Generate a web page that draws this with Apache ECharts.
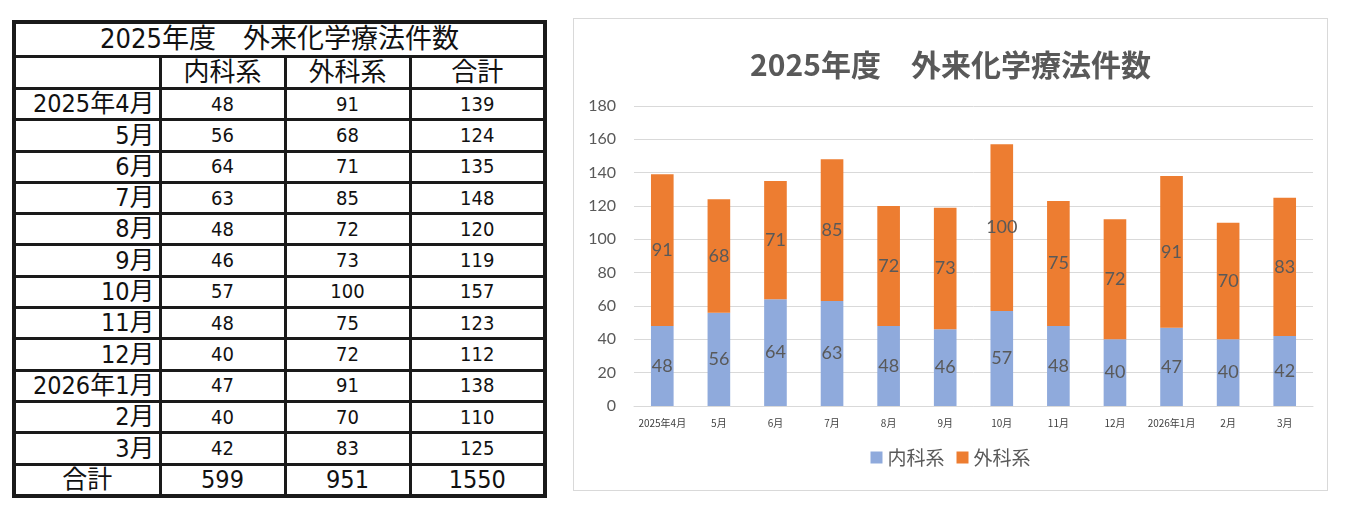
<!DOCTYPE html>
<html lang="ja">
<head>
<meta charset="UTF-8">
<title>2025年度 外来化学療法件数</title>
<script src="https://cdn.jsdelivr.net/npm/echarts@6/dist/echarts.min.js"></script>
<style>
  body { margin: 0; background: #fff; width: 1345px; height: 511px; position: relative; overflow: hidden; }
  #tbl {
    position: absolute; left: 12px; top: 20px; width: 531px; height: 478px;
    border-collapse: collapse; border: 4px solid #1a1a1a; box-sizing: border-box;
    font-family: "DejaVu Sans Condensed", "Noto Sans CJK JP", sans-serif; color: #111;
    table-layout: fixed;
  }
  #tbl td { border: 3px solid #1a1a1a; padding: 0; height: 1px; line-height: 0.95; text-align: center; font-size: 20px; overflow: hidden; }
  #tbl td.title { font-size: 27px; }
  #tbl td.head { font-size: 26px; }
  #tbl td.month { text-align: right; padding-right: 4px; font-size: 25px; }
  #tbl tr.total td { font-size: 25px; }
  #chart {
    position: absolute; left: 573px; top: 18px; width: 755px; height: 473px;
    border: 1px solid #d9d9d9; box-sizing: border-box;
  }
</style>
</head>
<body>
<table id="tbl"></table>
<div id="chart"></div>
<script>
// 元データ
const titleText = '2025年度　外来化学療法件数';
const tableMonths = ['2025年4月', '5月', '6月', '7月', '8月', '9月', '10月', '11月', '12月', '2026年1月', '2月', '3月'];
const chartMonths = ['2025年4月', '5月', '6月', '7月', '8月', '9月', '10月', '11月', '12月', '2026年1月', '2月', '3月'];
const seriesNames = ['内科系', '外科系', '合計'];
const naika = [48, 56, 64, 63, 48, 46, 57, 48, 40, 47, 40, 42];
const geka = [91, 68, 71, 85, 72, 73, 100, 75, 72, 91, 70, 83];
const goukei = [139, 124, 135, 148, 120, 119, 157, 123, 112, 138, 110, 125];
const totalLabel = '合計';
const totals = [599, 951, 1550];
const yTicks = [0, 20, 40, 60, 80, 100, 120, 140, 160, 180];

// 表
let html = '<colgroup><col style="width:146px"><col style="width:125px"><col style="width:125px"><col style="width:135px"></colgroup>';
html += '<tr><td class="title" colspan="4">' + titleText + '</td></tr>';
html += '<tr><td class="head"></td>' + seriesNames.map(n => '<td class="head">' + n + '</td>').join('') + '</tr>';
tableMonths.forEach((m, i) => {
  html += '<tr><td class="month">' + m + '</td><td>' + naika[i] + '</td><td>' + geka[i] + '</td><td>' + goukei[i] + '</td></tr>';
});
html += '<tr class="total"><td class="head">' + totalLabel + '</td>' + totals.map(v => '<td>' + v + '</td>').join('') + '</tr>';
document.getElementById('tbl').innerHTML = html;

// グラフ
const chart = echarts.init(document.getElementById('chart'));
const labelStyle = {
  show: true, position: 'inside', color: '#595959', fontSize: 18,
  fontFamily: 'Lato, "Noto Sans CJK JP", sans-serif'
};
chart.setOption({
  animation: false,
  title: {
    text: '2025年度　外来化学療法件数',
    left: 'center', top: 26,
    textStyle: { color: '#595959', fontSize: 30, fontWeight: 'bold', fontFamily: '"Noto Sans CJK JP", sans-serif' }
  },
  legend: {
    bottom: 18, left: 'center', itemWidth: 12, itemHeight: 12, icon: 'rect', itemGap: 12,
    textStyle: { color: '#595959', fontSize: 19, fontFamily: '"Noto Sans CJK JP", sans-serif' }
  },
  grid: { left: 60, right: 14, top: 87, bottom: 84, containLabel: false },
  xAxis: {
    type: 'category', data: chartMonths,
    axisLine: { lineStyle: { color: '#d9d9d9', width: 1 } },
    axisTick: { show: false },
    axisLabel: { color: '#404040', fontSize: 10, margin: 12, interval: 0, fontFamily: '"Noto Sans CJK JP", sans-serif' }
  },
  yAxis: {
    type: 'value', min: yTicks[0], max: yTicks[yTicks.length - 1], interval: 20,
    axisLine: { show: false }, axisTick: { show: false },
    splitLine: { lineStyle: { color: '#d9d9d9', width: 1 } },
    axisLabel: { color: '#595959', fontSize: 16, margin: 18, fontFamily: 'Lato, sans-serif' }
  },
  series: [
    {
      name: seriesNames[0], type: 'bar', stack: 'total', data: naika, barWidth: '40%',
      itemStyle: { color: '#8faadc' }, label: labelStyle
    },
    {
      name: seriesNames[1], type: 'bar', stack: 'total', data: geka, barWidth: '40%',
      itemStyle: { color: '#ed7d31' }, label: labelStyle
    }
  ]
});
</script>
</body>
</html>
